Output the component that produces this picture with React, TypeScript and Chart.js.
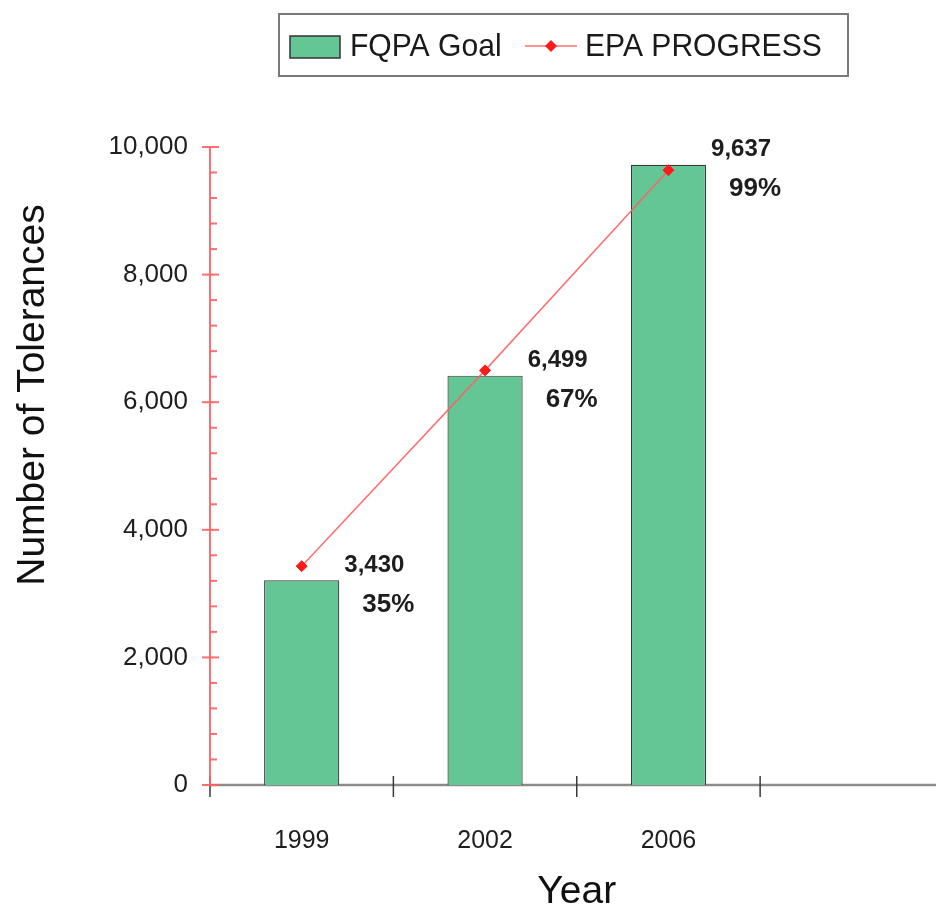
import React, { useEffect, useRef } from 'react';
import { Chart, registerables } from 'chart.js';

Chart.register(...registerables);

const categories = ['1999', '2002', '2006', ''];
const goalValues: (number | null)[] = [3208, 6416, 9721, null];
const progressValues: (number | null)[] = [3430, 6499, 9637, null];
const totalTolerances = 9721;
const yMin = 0;
const yMax = 10000;
const majorStep = 2000;
const minorStep = 400;
const seriesNames = ['FQPA Goal', 'EPA PROGRESS'];
const xTitle = 'Year';
const yTitle = 'Number of Tolerances';

const FONT = "'Liberation Sans', Arial, Helvetica, sans-serif";
const GREEN = '#63c694';
const LINE_RED = 'rgba(255, 95, 95, 0.9)';
const POINT_RED = '#ff1a1a';
const TEXT = '#1e1e1e';

const decorPlugin = {
  id: 'decor',
  beforeDatasetsDraw(chart: any) {
    const { ctx, chartArea, scales } = chart;
    const x = scales.x;
    const y = scales.y;
    const y0 = y.getPixelForValue(yMin);
    const yTop = y.getPixelForValue(yMax);
    const left = chartArea.left;
    ctx.save();
    ctx.strokeStyle = '#8c8c8c';
    ctx.lineWidth = 2.5;
    ctx.beginPath();
    ctx.moveTo(left, y0);
    ctx.lineTo(chartArea.right, y0);
    ctx.stroke();
    const catW = x.getPixelForValue(1) - x.getPixelForValue(0);
    ctx.strokeStyle = '#3a3a3a';
    ctx.lineWidth = 1.5;
    for (let i = 0; i <= categories.length; i++) {
      const px = x.getPixelForValue(0) - catW / 2 + i * catW;
      ctx.beginPath();
      ctx.moveTo(px, y0 - 9);
      ctx.lineTo(px, y0 + 12);
      ctx.stroke();
    }
    ctx.strokeStyle = LINE_RED;
    ctx.lineWidth = 2;
    ctx.beginPath();
    ctx.moveTo(left, y0);
    ctx.lineTo(left, yTop);
    ctx.stroke();
    for (let v = yMin; v <= yMax; v += majorStep) {
      const py = y.getPixelForValue(v);
      ctx.beginPath();
      ctx.moveTo(left - 8, py);
      ctx.lineTo(left + 9, py);
      ctx.stroke();
    }
    for (let v = yMin + minorStep; v < yMax; v += minorStep) {
      if (v % majorStep === 0) continue;
      const py = y.getPixelForValue(v);
      ctx.beginPath();
      ctx.moveTo(left, py);
      ctx.lineTo(left + 7, py);
      ctx.stroke();
    }
    ctx.restore();
  },
  afterDatasetsDraw(chart: any) {
    const { ctx, chartArea } = chart;
    const barMeta = chart.getDatasetMeta(0);
    ctx.save();
    ctx.fillStyle = TEXT;
    ctx.textAlign = 'left';
    ctx.textBaseline = 'middle';
    barMeta.data.forEach((bar: any, i: number) => {
      const val = progressValues[i];
      if (val == null || goalValues[i] == null) return;
      const right = bar.x + bar.width / 2;
      const top = bar.y;
      ctx.font = `bold 24px ${FONT}`;
      ctx.fillText(val.toLocaleString('en-US'), right + 5, top - 15);
      ctx.font = `bold 26px ${FONT}`;
      ctx.fillText(`${Math.round((val / totalTolerances) * 100)}%`, right + 23, top + 24);
    });

    ctx.font = `39px ${FONT}`;
    ctx.textAlign = 'center';
    ctx.textBaseline = 'alphabetic';
    ctx.fillStyle = '#111';
    ctx.fillText(xTitle, (chartArea.left + chartArea.right) / 2, 903);
    ctx.save();
    ctx.translate(44, chartArea.top + 248);
    ctx.rotate(-Math.PI / 2);
    ctx.fillText(yTitle, 0, 0);
    ctx.restore();

    ctx.strokeStyle = '#7a7a7a';
    ctx.lineWidth = 2;
    ctx.strokeRect(279, 14, 569, 62);
    ctx.fillStyle = GREEN;
    ctx.fillRect(290, 36, 50, 22);
    ctx.strokeStyle = '#333';
    ctx.lineWidth = 1.5;
    ctx.strokeRect(290, 36, 50, 22);
    ctx.strokeStyle = LINE_RED;
    ctx.lineWidth = 1.5;
    ctx.beginPath();
    ctx.moveTo(525, 46);
    ctx.lineTo(577, 46);
    ctx.stroke();
    ctx.fillStyle = POINT_RED;
    ctx.beginPath();
    ctx.moveTo(551, 40);
    ctx.lineTo(557, 46);
    ctx.lineTo(551, 52);
    ctx.lineTo(545, 46);
    ctx.closePath();
    ctx.fill();
    ctx.fillStyle = '#1a1a1a';
    ctx.font = `32px ${FONT}`;
    ctx.textAlign = 'left';
    const drawCondensed = (t: string, px: number, py: number) => {
      ctx.save();
      ctx.translate(px, py);
      ctx.scale(0.94, 1);
      ctx.fillText(t, 0, 0);
      ctx.restore();
    };
    drawCondensed(seriesNames[0], 350, 56);
    drawCondensed(seriesNames[1], 585, 56);
    ctx.restore();
  },
};

export default function App() {
  const ref = useRef<HTMLCanvasElement>(null);
  useEffect(() => {
    if (!ref.current) return;
    const chart = new Chart(ref.current, {
      type: 'bar',
      data: {
        labels: categories,
        datasets: [
          {
            type: 'bar',
            label: seriesNames[0],
            data: goalValues,
            backgroundColor: GREEN,
            borderColor: '#3a3a3a',
            borderWidth: 1.2,
            categoryPercentage: 1,
            barPercentage: 0.41,
            order: 2,
          } as any,
          {
            type: 'line',
            label: seriesNames[1],
            data: progressValues,
            borderColor: LINE_RED,
            borderWidth: 1.5,
            pointStyle: 'rectRot',
            pointRadius: 5.5,
            pointBackgroundColor: POINT_RED,
            pointBorderColor: POINT_RED,
            pointBorderWidth: 1,
            fill: false,
            tension: 0,
            order: 1,
          } as any,
        ],
      },
      options: {
        animation: false,
        responsive: false,
        maintainAspectRatio: false,
        devicePixelRatio: 1,
        layout: { padding: { left: 0, top: 147, right: 4, bottom: 0 } },
        plugins: {
          legend: { display: false },
          tooltip: { enabled: false },
          title: { display: false },
        },
        scales: {
          x: {
            type: 'category',
            offset: true,
            grid: { display: false },
            border: { display: false },
            ticks: {
              color: TEXT,
              font: { family: FONT, size: 25 },
              padding: 33,
              maxRotation: 0,
              autoSkip: false,
            },
            afterFit: (s: any) => {
              s.height = 122;
            },
          },
          y: {
            type: 'linear',
            min: yMin,
            max: yMax,
            grid: { display: false },
            border: { display: false },
            ticks: {
              stepSize: majorStep,
              color: TEXT,
              font: { family: FONT, size: 26 },
              padding: 14,
              callback: (v: any) => Number(v).toLocaleString('en-US'),
            },
            afterFit: (s: any) => {
              s.width = 210;
            },
          },
        },
      },
      plugins: [decorPlugin],
    });
    return () => chart.destroy();
  }, []);
  return (
    <div
      style={{
        position: 'absolute',
        left: 0,
        top: 0,
        width: 936,
        height: 907,
        overflow: 'hidden',
        background: '#fff',
      }}
    >
      <canvas ref={ref} width={950} height={907} style={{ display: 'block' }} />
    </div>
  );
}
